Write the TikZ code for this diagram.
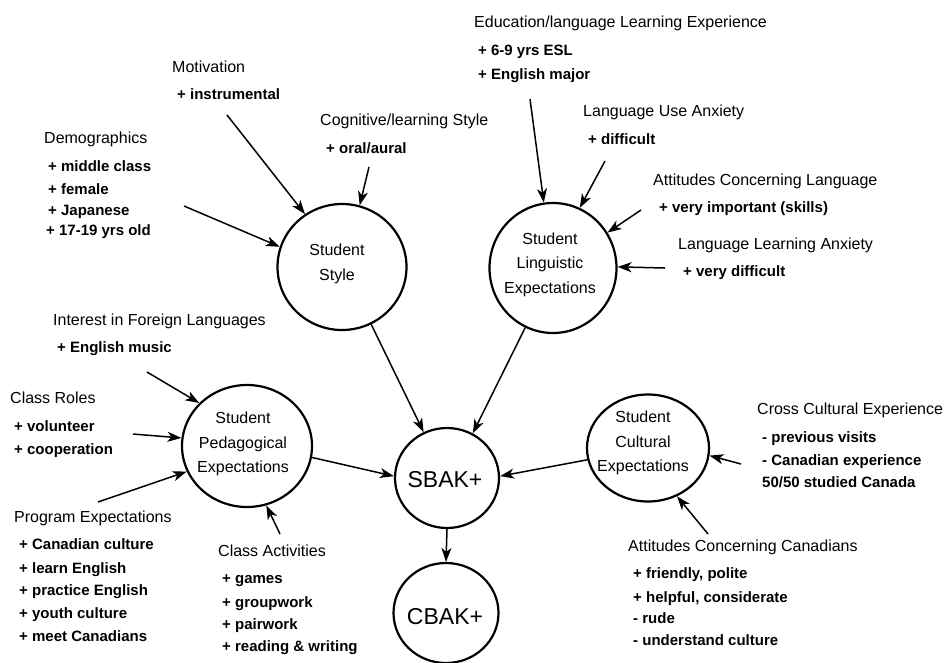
\documentclass[tikz,border=0pt]{standalone}
\usepackage{fontspec}
\setmainfont{Liberation Sans}
\usetikzlibrary{arrows.meta,shapes.geometric}
\begin{document}
\begin{tikzpicture}[x=1pt,y=-1pt,
  hd/.style={font=\fontsize{16}{19}\selectfont, anchor=base west, inner sep=0},
  it/.style={font=\fontsize{15}{18}\selectfont\bfseries, anchor=base west, inner sep=0},
  bub/.style={ellipse, draw, line width=2.2pt, inner sep=0},
  btxt/.style={align=center, inner sep=0, font=\fontsize{16}{24.5}\selectfont},
  bigtxt/.style={inner sep=0, font=\fontsize{23}{27}\selectfont},
  arr/.style={line width=1.5pt, -{Stealth[length=14pt,width=10pt,inset=4pt]}}]
\useasboundingbox (0,0) rectangle (950,662);

% bubbles
\node[bub, minimum width=129pt, minimum height=126pt] (style) at (342,267) {};
\node[btxt] (styletxt) at (337,264) {Student\\Style};
\node[bub, minimum width=127pt, minimum height=130pt] (ling) at (553,268) {};
\node[btxt] (lingtxt) at (550,264.5) {Student\\Linguistic\\Expectations};
\node[bub, minimum width=130pt, minimum height=122pt] (ped) at (247,446) {};
\node[btxt] (pedtxt) at (243,444) {Student\\Pedagogical\\Expectations};
\node[bub, minimum width=104pt, minimum height=100pt] (sbak) at (447,478) {};
\node[bigtxt] (sbaktxt) at (445,480) {SBAK+};
\node[bub, minimum width=105pt, minimum height=100pt] (cbak) at (446,613) {};
\node[bigtxt] (cbaktxt) at (445,617) {CBAK+};
\node[bub, minimum width=122pt, minimum height=107pt] (cult) at (648,448) {};
\node[btxt] (culttxt) at (643,443) {Student\\Cultural\\Expectations};

% labels
\node[hd] (mot) at (172,72.5) {Motivation};
\node[it] (mot1) at (177,99.5) {+ instrumental};
\node[hd] (cog) at (320,125.5) {Cognitive/learning Style};
\node[it] (cog1) at (326,153.5) {+ oral/aural};
\node[hd] (dem) at (44,143.5) {Demographics};
\node[it] (dem1) at (48,171.5) {+ middle class};
\node[it] (dem2) at (48,194.5) {+ female};
\node[it] (dem3) at (48,215.5) {+ Japanese};
\node[it] (dem4) at (46,235.5) {+ 17-19 yrs old};
\node[hd] (int) at (53,325.5) {Interest in Foreign Languages};
\node[it] (int1) at (57,352.5) {+ English music};
\node[hd] (rol) at (10,403.5) {Class Roles};
\node[it] (rol1) at (14,431.5) {+ volunteer};
\node[it] (rol2) at (14,454.5) {+ cooperation};
\node[hd] (pro) at (14,522.5) {Program Expectations};
\node[it] (pro1) at (19,549.5) {+ Canadian culture};
\node[it] (pro2) at (19,573.5) {+ learn English};
\node[it] (pro3) at (19,595.5) {+ practice English};
\node[it] (pro4) at (19,618.5) {+ youth culture};
\node[it] (pro5) at (19,641.5) {+ meet Canadians};
\node[hd] (act) at (218,556.5) {Class Activities};
\node[it] (act1) at (222,583.5) {+ games};
\node[it] (act2) at (222,607.5) {+ groupwork};
\node[it] (act3) at (222,629.5) {+ pairwork};
\node[it] (act4) at (222,651.5) {+ reading \& writing};
\node[hd] (edu) at (474,27.5) {Education/language Learning Experience};
\node[it] (edu1) at (478,55.5) {+ 6-9 yrs ESL};
\node[it] (edu2) at (478,79.5) {+ English major};
\node[hd] (use) at (583,116.5) {Language Use Anxiety};
\node[it] (use1) at (588,144.5) {+ difficult};
\node[hd] (att) at (653,185.5) {Attitudes Concerning Language};
\node[it] (att1) at (659,212.5) {+ very important (skills)};
\node[hd] (lla) at (678,249.5) {Language Learning Anxiety};
\node[it] (lla1) at (683,276.5) {+ very difficult};
\node[hd] (cro) at (757,414.5) {Cross Cultural Experience};
\node[it] (cro1) at (762,442.5) {- previous visits};
\node[it] (cro2) at (762,465.5) {- Canadian experience};
\node[it] (cro3) at (762,487.5) {50/50 studied Canada};
\node[hd] (can) at (628,551.5) {Attitudes Concerning Canadians};
\node[it] (can1) at (633,578.5) {+ friendly, polite};
\node[it] (can2) at (633,602.5) {+ helpful, considerate};
\node[it] (can3) at (633,623.5) {- rude};
\node[it] (can4) at (633,645.5) {- understand culture};

% arrow tails
\coordinate (tMot) at (227,115);
\coordinate (tCog) at (369,167);
\coordinate (tDem) at (184,206);
\coordinate (tEdu) at (530,99);
\coordinate (tUse) at (605,161);
\coordinate (tAtt) at (641,210);
\coordinate (tLLA) at (665,268);
\coordinate (tInt) at (147,372);
\coordinate (tRol) at (133,434);
\coordinate (tPro) at (98,502);
\coordinate (tAct) at (280,534);
\coordinate (tCro) at (741,464);
\coordinate (tCan) at (708,534);

% connectors
\draw[arr] (tMot) -- (style.125.8);
\draw[arr] (tCog) -- (style.74.5);
\draw[arr] (tDem) -- (style.162);
\draw[arr] (tEdu) -- (ling.98.7);
\draw[arr] (tUse) -- (ling.66);
\draw[arr] (tAtt) -- (ling.33.7);
\draw[arr] (tLLA) -- (ling.1.8);
\draw[arr] (tInt) -- (ped.138.5);
\draw[arr] (tRol) -- (ped.173.2);
\draw[arr] (tPro) -- (ped.203.5);
\draw[arr] (tAct) -- (ped.288.2);
\draw[arr] (tCro) -- (cult.353.7);
\draw[arr] (tCan) -- (cult.301.5);
\draw[arr] (style.297.6) -- (sbak.117.6);
\draw[arr] (ling.245.2) -- (sbak.60);
\draw[arr] (ped.350.2) -- (sbak.178);
\draw[arr] (cult.191.5) -- (sbak.2);
\draw[arr] (sbak.270) -- (cbak.90);
\end{tikzpicture}
\end{document}
